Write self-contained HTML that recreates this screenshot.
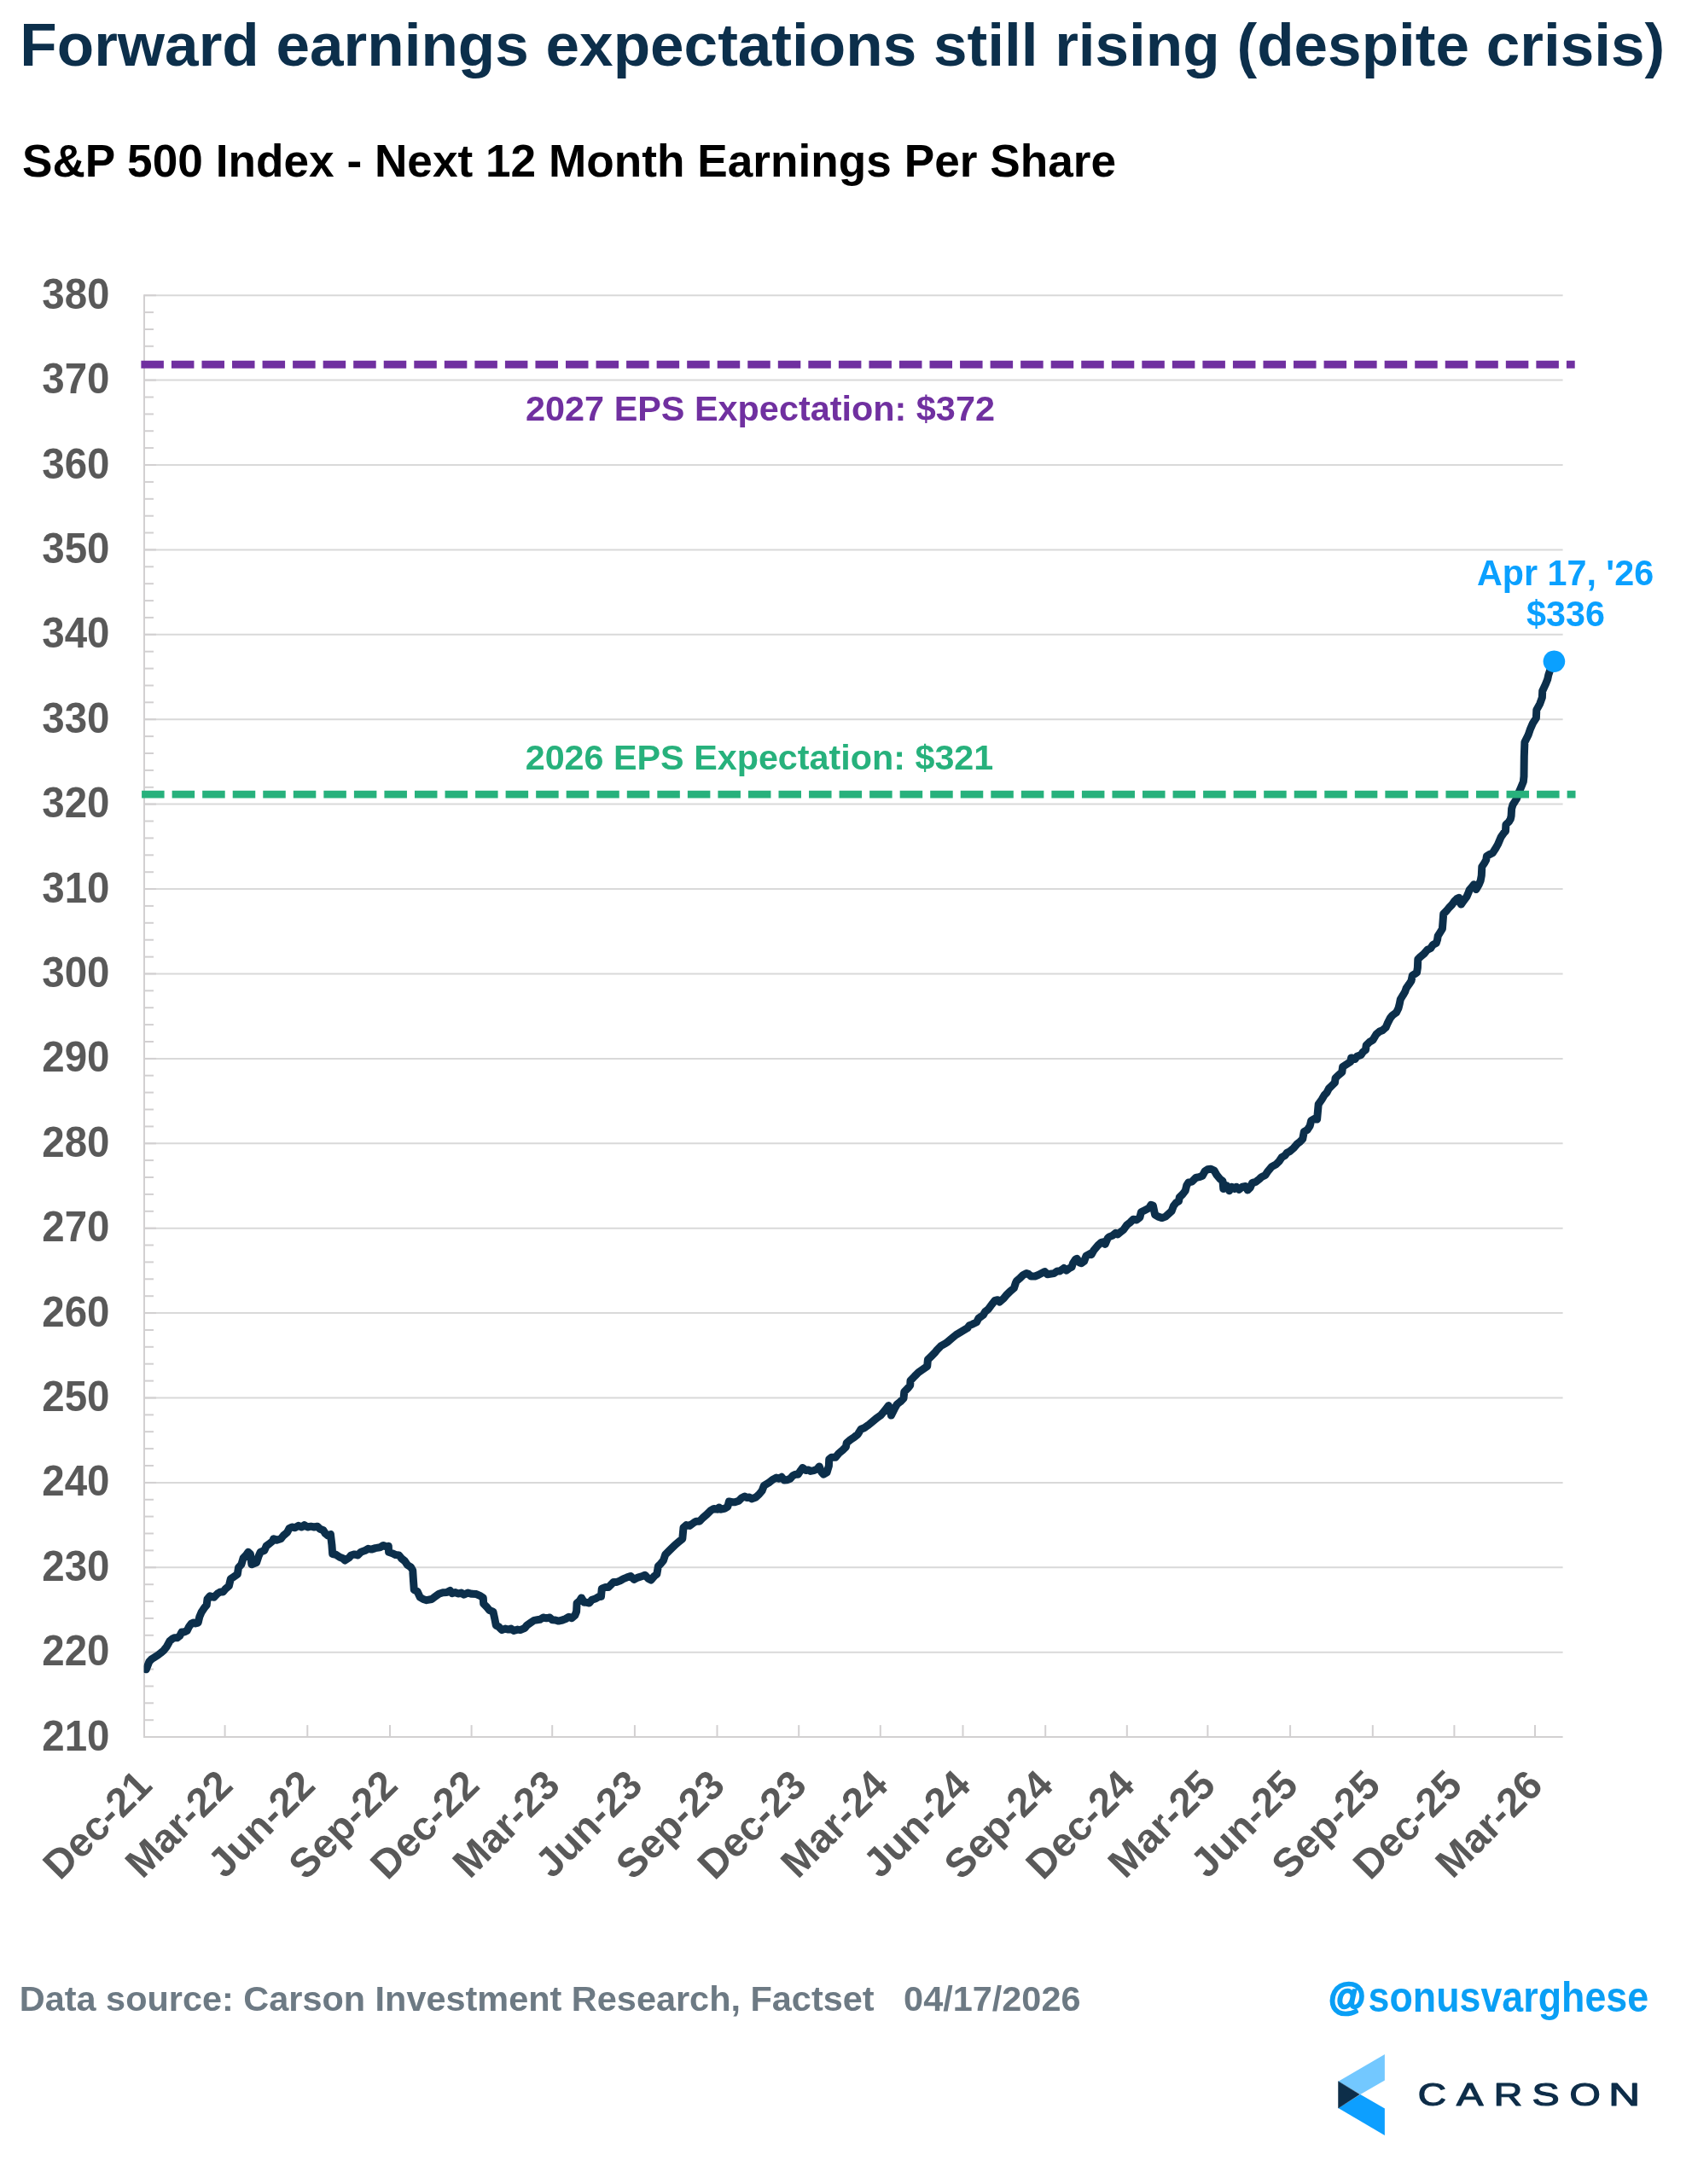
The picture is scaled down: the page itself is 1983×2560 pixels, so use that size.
<!DOCTYPE html>
<html><head><meta charset="utf-8"><title>Forward earnings expectations</title>
<style>
html,body{margin:0;padding:0;background:#fff;}
body{width:1983px;height:2560px;overflow:hidden;}
svg{display:block;will-change:transform;}
text{font-family:"Liberation Sans",sans-serif;font-weight:bold;}
</style></head><body>
<svg width="1983" height="2560" viewBox="0 0 1983 2560">
<rect x="0" y="0" width="1983" height="2560" fill="#ffffff"/>

<text x="23.3" y="77.3" font-size="71.1" fill="#0C2F4B">Forward earnings expectations still rising (despite crisis)</text>
<text transform="translate(25.9,207) scale(0.9855,1)" font-size="54" fill="#000000">S&amp;P 500 Index - Next 12 Month Earnings Per Share</text>
<line x1="169.0" y1="2036.1" x2="1831.6" y2="2036.1" stroke="#D2D0D1" stroke-width="2"/>
<line x1="169.0" y1="1936.7" x2="1831.6" y2="1936.7" stroke="#D9D9D9" stroke-width="2"/>
<line x1="169.0" y1="1837.3" x2="1831.6" y2="1837.3" stroke="#D9D9D9" stroke-width="2"/>
<line x1="169.0" y1="1737.9" x2="1831.6" y2="1737.9" stroke="#D9D9D9" stroke-width="2"/>
<line x1="169.0" y1="1638.5" x2="1831.6" y2="1638.5" stroke="#D9D9D9" stroke-width="2"/>
<line x1="169.0" y1="1539.1" x2="1831.6" y2="1539.1" stroke="#D9D9D9" stroke-width="2"/>
<line x1="169.0" y1="1439.7" x2="1831.6" y2="1439.7" stroke="#D9D9D9" stroke-width="2"/>
<line x1="169.0" y1="1340.3" x2="1831.6" y2="1340.3" stroke="#D9D9D9" stroke-width="2"/>
<line x1="169.0" y1="1240.9" x2="1831.6" y2="1240.9" stroke="#D9D9D9" stroke-width="2"/>
<line x1="169.0" y1="1141.4" x2="1831.6" y2="1141.4" stroke="#D9D9D9" stroke-width="2"/>
<line x1="169.0" y1="1042.0" x2="1831.6" y2="1042.0" stroke="#D9D9D9" stroke-width="2"/>
<line x1="169.0" y1="942.6" x2="1831.6" y2="942.6" stroke="#D9D9D9" stroke-width="2"/>
<line x1="169.0" y1="843.2" x2="1831.6" y2="843.2" stroke="#D9D9D9" stroke-width="2"/>
<line x1="169.0" y1="743.8" x2="1831.6" y2="743.8" stroke="#D9D9D9" stroke-width="2"/>
<line x1="169.0" y1="644.4" x2="1831.6" y2="644.4" stroke="#D9D9D9" stroke-width="2"/>
<line x1="169.0" y1="545.0" x2="1831.6" y2="545.0" stroke="#D9D9D9" stroke-width="2"/>
<line x1="169.0" y1="445.6" x2="1831.6" y2="445.6" stroke="#D9D9D9" stroke-width="2"/>
<line x1="169.0" y1="346.2" x2="1831.6" y2="346.2" stroke="#D9D9D9" stroke-width="2"/>
<line x1="169.0" y1="2016.2" x2="180.0" y2="2016.2" stroke="#D2D0D1" stroke-width="2"/>
<line x1="169.0" y1="1996.3" x2="180.0" y2="1996.3" stroke="#D2D0D1" stroke-width="2"/>
<line x1="169.0" y1="1976.5" x2="180.0" y2="1976.5" stroke="#D2D0D1" stroke-width="2"/>
<line x1="169.0" y1="1956.6" x2="180.0" y2="1956.6" stroke="#D2D0D1" stroke-width="2"/>
<line x1="169.0" y1="1916.8" x2="180.0" y2="1916.8" stroke="#D2D0D1" stroke-width="2"/>
<line x1="169.0" y1="1896.9" x2="180.0" y2="1896.9" stroke="#D2D0D1" stroke-width="2"/>
<line x1="169.0" y1="1877.1" x2="180.0" y2="1877.1" stroke="#D2D0D1" stroke-width="2"/>
<line x1="169.0" y1="1857.2" x2="180.0" y2="1857.2" stroke="#D2D0D1" stroke-width="2"/>
<line x1="169.0" y1="1817.4" x2="180.0" y2="1817.4" stroke="#D2D0D1" stroke-width="2"/>
<line x1="169.0" y1="1797.5" x2="180.0" y2="1797.5" stroke="#D2D0D1" stroke-width="2"/>
<line x1="169.0" y1="1777.6" x2="180.0" y2="1777.6" stroke="#D2D0D1" stroke-width="2"/>
<line x1="169.0" y1="1757.8" x2="180.0" y2="1757.8" stroke="#D2D0D1" stroke-width="2"/>
<line x1="169.0" y1="1718.0" x2="180.0" y2="1718.0" stroke="#D2D0D1" stroke-width="2"/>
<line x1="169.0" y1="1698.1" x2="180.0" y2="1698.1" stroke="#D2D0D1" stroke-width="2"/>
<line x1="169.0" y1="1678.2" x2="180.0" y2="1678.2" stroke="#D2D0D1" stroke-width="2"/>
<line x1="169.0" y1="1658.4" x2="180.0" y2="1658.4" stroke="#D2D0D1" stroke-width="2"/>
<line x1="169.0" y1="1618.6" x2="180.0" y2="1618.6" stroke="#D2D0D1" stroke-width="2"/>
<line x1="169.0" y1="1598.7" x2="180.0" y2="1598.7" stroke="#D2D0D1" stroke-width="2"/>
<line x1="169.0" y1="1578.8" x2="180.0" y2="1578.8" stroke="#D2D0D1" stroke-width="2"/>
<line x1="169.0" y1="1559.0" x2="180.0" y2="1559.0" stroke="#D2D0D1" stroke-width="2"/>
<line x1="169.0" y1="1519.2" x2="180.0" y2="1519.2" stroke="#D2D0D1" stroke-width="2"/>
<line x1="169.0" y1="1499.3" x2="180.0" y2="1499.3" stroke="#D2D0D1" stroke-width="2"/>
<line x1="169.0" y1="1479.4" x2="180.0" y2="1479.4" stroke="#D2D0D1" stroke-width="2"/>
<line x1="169.0" y1="1459.5" x2="180.0" y2="1459.5" stroke="#D2D0D1" stroke-width="2"/>
<line x1="169.0" y1="1419.8" x2="180.0" y2="1419.8" stroke="#D2D0D1" stroke-width="2"/>
<line x1="169.0" y1="1399.9" x2="180.0" y2="1399.9" stroke="#D2D0D1" stroke-width="2"/>
<line x1="169.0" y1="1380.0" x2="180.0" y2="1380.0" stroke="#D2D0D1" stroke-width="2"/>
<line x1="169.0" y1="1360.1" x2="180.0" y2="1360.1" stroke="#D2D0D1" stroke-width="2"/>
<line x1="169.0" y1="1320.4" x2="180.0" y2="1320.4" stroke="#D2D0D1" stroke-width="2"/>
<line x1="169.0" y1="1300.5" x2="180.0" y2="1300.5" stroke="#D2D0D1" stroke-width="2"/>
<line x1="169.0" y1="1280.6" x2="180.0" y2="1280.6" stroke="#D2D0D1" stroke-width="2"/>
<line x1="169.0" y1="1260.7" x2="180.0" y2="1260.7" stroke="#D2D0D1" stroke-width="2"/>
<line x1="169.0" y1="1221.0" x2="180.0" y2="1221.0" stroke="#D2D0D1" stroke-width="2"/>
<line x1="169.0" y1="1201.1" x2="180.0" y2="1201.1" stroke="#D2D0D1" stroke-width="2"/>
<line x1="169.0" y1="1181.2" x2="180.0" y2="1181.2" stroke="#D2D0D1" stroke-width="2"/>
<line x1="169.0" y1="1161.3" x2="180.0" y2="1161.3" stroke="#D2D0D1" stroke-width="2"/>
<line x1="169.0" y1="1121.6" x2="180.0" y2="1121.6" stroke="#D2D0D1" stroke-width="2"/>
<line x1="169.0" y1="1101.7" x2="180.0" y2="1101.7" stroke="#D2D0D1" stroke-width="2"/>
<line x1="169.0" y1="1081.8" x2="180.0" y2="1081.8" stroke="#D2D0D1" stroke-width="2"/>
<line x1="169.0" y1="1061.9" x2="180.0" y2="1061.9" stroke="#D2D0D1" stroke-width="2"/>
<line x1="169.0" y1="1022.2" x2="180.0" y2="1022.2" stroke="#D2D0D1" stroke-width="2"/>
<line x1="169.0" y1="1002.3" x2="180.0" y2="1002.3" stroke="#D2D0D1" stroke-width="2"/>
<line x1="169.0" y1="982.4" x2="180.0" y2="982.4" stroke="#D2D0D1" stroke-width="2"/>
<line x1="169.0" y1="962.5" x2="180.0" y2="962.5" stroke="#D2D0D1" stroke-width="2"/>
<line x1="169.0" y1="922.8" x2="180.0" y2="922.8" stroke="#D2D0D1" stroke-width="2"/>
<line x1="169.0" y1="902.9" x2="180.0" y2="902.9" stroke="#D2D0D1" stroke-width="2"/>
<line x1="169.0" y1="883.0" x2="180.0" y2="883.0" stroke="#D2D0D1" stroke-width="2"/>
<line x1="169.0" y1="863.1" x2="180.0" y2="863.1" stroke="#D2D0D1" stroke-width="2"/>
<line x1="169.0" y1="823.3" x2="180.0" y2="823.3" stroke="#D2D0D1" stroke-width="2"/>
<line x1="169.0" y1="803.5" x2="180.0" y2="803.5" stroke="#D2D0D1" stroke-width="2"/>
<line x1="169.0" y1="783.6" x2="180.0" y2="783.6" stroke="#D2D0D1" stroke-width="2"/>
<line x1="169.0" y1="763.7" x2="180.0" y2="763.7" stroke="#D2D0D1" stroke-width="2"/>
<line x1="169.0" y1="723.9" x2="180.0" y2="723.9" stroke="#D2D0D1" stroke-width="2"/>
<line x1="169.0" y1="704.1" x2="180.0" y2="704.1" stroke="#D2D0D1" stroke-width="2"/>
<line x1="169.0" y1="684.2" x2="180.0" y2="684.2" stroke="#D2D0D1" stroke-width="2"/>
<line x1="169.0" y1="664.3" x2="180.0" y2="664.3" stroke="#D2D0D1" stroke-width="2"/>
<line x1="169.0" y1="624.5" x2="180.0" y2="624.5" stroke="#D2D0D1" stroke-width="2"/>
<line x1="169.0" y1="604.7" x2="180.0" y2="604.7" stroke="#D2D0D1" stroke-width="2"/>
<line x1="169.0" y1="584.8" x2="180.0" y2="584.8" stroke="#D2D0D1" stroke-width="2"/>
<line x1="169.0" y1="564.9" x2="180.0" y2="564.9" stroke="#D2D0D1" stroke-width="2"/>
<line x1="169.0" y1="525.1" x2="180.0" y2="525.1" stroke="#D2D0D1" stroke-width="2"/>
<line x1="169.0" y1="505.2" x2="180.0" y2="505.2" stroke="#D2D0D1" stroke-width="2"/>
<line x1="169.0" y1="485.4" x2="180.0" y2="485.4" stroke="#D2D0D1" stroke-width="2"/>
<line x1="169.0" y1="465.5" x2="180.0" y2="465.5" stroke="#D2D0D1" stroke-width="2"/>
<line x1="169.0" y1="425.7" x2="180.0" y2="425.7" stroke="#D2D0D1" stroke-width="2"/>
<line x1="169.0" y1="405.8" x2="180.0" y2="405.8" stroke="#D2D0D1" stroke-width="2"/>
<line x1="169.0" y1="386.0" x2="180.0" y2="386.0" stroke="#D2D0D1" stroke-width="2"/>
<line x1="169.0" y1="366.1" x2="180.0" y2="366.1" stroke="#D2D0D1" stroke-width="2"/>
<line x1="169.0" y1="1936.7" x2="183.0" y2="1936.7" stroke="#D2D0D1" stroke-width="2"/>
<line x1="169.0" y1="1837.3" x2="183.0" y2="1837.3" stroke="#D2D0D1" stroke-width="2"/>
<line x1="169.0" y1="1737.9" x2="183.0" y2="1737.9" stroke="#D2D0D1" stroke-width="2"/>
<line x1="169.0" y1="1638.5" x2="183.0" y2="1638.5" stroke="#D2D0D1" stroke-width="2"/>
<line x1="169.0" y1="1539.1" x2="183.0" y2="1539.1" stroke="#D2D0D1" stroke-width="2"/>
<line x1="169.0" y1="1439.7" x2="183.0" y2="1439.7" stroke="#D2D0D1" stroke-width="2"/>
<line x1="169.0" y1="1340.3" x2="183.0" y2="1340.3" stroke="#D2D0D1" stroke-width="2"/>
<line x1="169.0" y1="1240.9" x2="183.0" y2="1240.9" stroke="#D2D0D1" stroke-width="2"/>
<line x1="169.0" y1="1141.4" x2="183.0" y2="1141.4" stroke="#D2D0D1" stroke-width="2"/>
<line x1="169.0" y1="1042.0" x2="183.0" y2="1042.0" stroke="#D2D0D1" stroke-width="2"/>
<line x1="169.0" y1="942.6" x2="183.0" y2="942.6" stroke="#D2D0D1" stroke-width="2"/>
<line x1="169.0" y1="843.2" x2="183.0" y2="843.2" stroke="#D2D0D1" stroke-width="2"/>
<line x1="169.0" y1="743.8" x2="183.0" y2="743.8" stroke="#D2D0D1" stroke-width="2"/>
<line x1="169.0" y1="644.4" x2="183.0" y2="644.4" stroke="#D2D0D1" stroke-width="2"/>
<line x1="169.0" y1="545.0" x2="183.0" y2="545.0" stroke="#D2D0D1" stroke-width="2"/>
<line x1="169.0" y1="445.6" x2="183.0" y2="445.6" stroke="#D2D0D1" stroke-width="2"/>
<line x1="169.0" y1="346.2" x2="183.0" y2="346.2" stroke="#D2D0D1" stroke-width="2"/>
<line x1="169.0" y1="345.2" x2="169.0" y2="2037.1" stroke="#D2D0D1" stroke-width="2"/>
<text transform="translate(128.5,2051.6) scale(1,1.045)" font-size="47.5" fill="#595959" text-anchor="end">210</text>
<text transform="translate(128.5,1952.2) scale(1,1.045)" font-size="47.5" fill="#595959" text-anchor="end">220</text>
<text transform="translate(128.5,1852.8) scale(1,1.045)" font-size="47.5" fill="#595959" text-anchor="end">230</text>
<text transform="translate(128.5,1753.4) scale(1,1.045)" font-size="47.5" fill="#595959" text-anchor="end">240</text>
<text transform="translate(128.5,1654.0) scale(1,1.045)" font-size="47.5" fill="#595959" text-anchor="end">250</text>
<text transform="translate(128.5,1554.6) scale(1,1.045)" font-size="47.5" fill="#595959" text-anchor="end">260</text>
<text transform="translate(128.5,1455.2) scale(1,1.045)" font-size="47.5" fill="#595959" text-anchor="end">270</text>
<text transform="translate(128.5,1355.8) scale(1,1.045)" font-size="47.5" fill="#595959" text-anchor="end">280</text>
<text transform="translate(128.5,1256.4) scale(1,1.045)" font-size="47.5" fill="#595959" text-anchor="end">290</text>
<text transform="translate(128.5,1156.9) scale(1,1.045)" font-size="47.5" fill="#595959" text-anchor="end">300</text>
<text transform="translate(128.5,1057.5) scale(1,1.045)" font-size="47.5" fill="#595959" text-anchor="end">310</text>
<text transform="translate(128.5,958.1) scale(1,1.045)" font-size="47.5" fill="#595959" text-anchor="end">320</text>
<text transform="translate(128.5,858.7) scale(1,1.045)" font-size="47.5" fill="#595959" text-anchor="end">330</text>
<text transform="translate(128.5,759.3) scale(1,1.045)" font-size="47.5" fill="#595959" text-anchor="end">340</text>
<text transform="translate(128.5,659.9) scale(1,1.045)" font-size="47.5" fill="#595959" text-anchor="end">350</text>
<text transform="translate(128.5,560.5) scale(1,1.045)" font-size="47.5" fill="#595959" text-anchor="end">360</text>
<text transform="translate(128.5,461.1) scale(1,1.045)" font-size="47.5" fill="#595959" text-anchor="end">370</text>
<text transform="translate(128.5,361.7) scale(1,1.045)" font-size="47.5" fill="#595959" text-anchor="end">380</text>
<text transform="translate(180.5,2095.1) rotate(-45)" font-size="47.5" fill="#595959" text-anchor="end">Dec-21</text>
<line x1="263.6" y1="2022.1" x2="263.6" y2="2036.1" stroke="#D2D0D1" stroke-width="2"/>
<text transform="translate(275.1,2095.1) rotate(-45)" font-size="47.5" fill="#595959" text-anchor="end">Mar-22</text>
<line x1="360.3" y1="2022.1" x2="360.3" y2="2036.1" stroke="#D2D0D1" stroke-width="2"/>
<text transform="translate(371.8,2095.1) rotate(-45)" font-size="47.5" fill="#595959" text-anchor="end">Jun-22</text>
<line x1="457.0" y1="2022.1" x2="457.0" y2="2036.1" stroke="#D2D0D1" stroke-width="2"/>
<text transform="translate(468.5,2095.1) rotate(-45)" font-size="47.5" fill="#595959" text-anchor="end">Sep-22</text>
<line x1="552.6" y1="2022.1" x2="552.6" y2="2036.1" stroke="#D2D0D1" stroke-width="2"/>
<text transform="translate(564.1,2095.1) rotate(-45)" font-size="47.5" fill="#595959" text-anchor="end">Dec-22</text>
<line x1="647.2" y1="2022.1" x2="647.2" y2="2036.1" stroke="#D2D0D1" stroke-width="2"/>
<text transform="translate(658.7,2095.1) rotate(-45)" font-size="47.5" fill="#595959" text-anchor="end">Mar-23</text>
<line x1="743.9" y1="2022.1" x2="743.9" y2="2036.1" stroke="#D2D0D1" stroke-width="2"/>
<text transform="translate(755.4,2095.1) rotate(-45)" font-size="47.5" fill="#595959" text-anchor="end">Jun-23</text>
<line x1="840.5" y1="2022.1" x2="840.5" y2="2036.1" stroke="#D2D0D1" stroke-width="2"/>
<text transform="translate(852.0,2095.1) rotate(-45)" font-size="47.5" fill="#595959" text-anchor="end">Sep-23</text>
<line x1="936.2" y1="2022.1" x2="936.2" y2="2036.1" stroke="#D2D0D1" stroke-width="2"/>
<text transform="translate(947.7,2095.1) rotate(-45)" font-size="47.5" fill="#595959" text-anchor="end">Dec-23</text>
<line x1="1031.8" y1="2022.1" x2="1031.8" y2="2036.1" stroke="#D2D0D1" stroke-width="2"/>
<text transform="translate(1043.3,2095.1) rotate(-45)" font-size="47.5" fill="#595959" text-anchor="end">Mar-24</text>
<line x1="1128.5" y1="2022.1" x2="1128.5" y2="2036.1" stroke="#D2D0D1" stroke-width="2"/>
<text transform="translate(1140.0,2095.1) rotate(-45)" font-size="47.5" fill="#595959" text-anchor="end">Jun-24</text>
<line x1="1225.2" y1="2022.1" x2="1225.2" y2="2036.1" stroke="#D2D0D1" stroke-width="2"/>
<text transform="translate(1236.7,2095.1) rotate(-45)" font-size="47.5" fill="#595959" text-anchor="end">Sep-24</text>
<line x1="1320.8" y1="2022.1" x2="1320.8" y2="2036.1" stroke="#D2D0D1" stroke-width="2"/>
<text transform="translate(1332.3,2095.1) rotate(-45)" font-size="47.5" fill="#595959" text-anchor="end">Dec-24</text>
<line x1="1415.4" y1="2022.1" x2="1415.4" y2="2036.1" stroke="#D2D0D1" stroke-width="2"/>
<text transform="translate(1426.9,2095.1) rotate(-45)" font-size="47.5" fill="#595959" text-anchor="end">Mar-25</text>
<line x1="1512.1" y1="2022.1" x2="1512.1" y2="2036.1" stroke="#D2D0D1" stroke-width="2"/>
<text transform="translate(1523.6,2095.1) rotate(-45)" font-size="47.5" fill="#595959" text-anchor="end">Jun-25</text>
<line x1="1608.8" y1="2022.1" x2="1608.8" y2="2036.1" stroke="#D2D0D1" stroke-width="2"/>
<text transform="translate(1620.3,2095.1) rotate(-45)" font-size="47.5" fill="#595959" text-anchor="end">Sep-25</text>
<line x1="1704.4" y1="2022.1" x2="1704.4" y2="2036.1" stroke="#D2D0D1" stroke-width="2"/>
<text transform="translate(1715.9,2095.1) rotate(-45)" font-size="47.5" fill="#595959" text-anchor="end">Dec-25</text>
<line x1="1799.0" y1="2022.1" x2="1799.0" y2="2036.1" stroke="#D2D0D1" stroke-width="2"/>
<text transform="translate(1810.5,2095.1) rotate(-45)" font-size="47.5" fill="#595959" text-anchor="end">Mar-26</text>
<text x="891" y="493.1" font-size="41.4" fill="#7030A0" text-anchor="middle">2027 EPS Expectation: $372</text>
<text x="890" y="902" font-size="41.3" fill="#27B17C" text-anchor="middle">2026 EPS Expectation: $321</text>
<clipPath id="pc"><rect x="168.6" y="300" width="1700" height="1800"/></clipPath>
<path clip-path="url(#pc)" d="M171.3,1956.8 L174.9,1947.6 L177.7,1944.8 L181.3,1942.5 L184.8,1940.3 L188.4,1937.5 L191.9,1934.6 L195.5,1929.9 L199.0,1923.5 L202.6,1920.6 L204.6,1919.8 L207.6,1919.8 L210.7,1917.5 L213.0,1912.9 L216.1,1912.9 L219.2,1911.4 L221.5,1906.7 L224.5,1902.9 L226.8,1902.1 L229.1,1902.9 L232.2,1902.1 L233.8,1895.2 L236.1,1889.8 L239.1,1885.2 L242.2,1881.4 L243.0,1874.5 L246.0,1870.9 L250.7,1872.2 L255.3,1867.6 L258.3,1866.0 L261.4,1866.0 L264.5,1862.2 L268.3,1859.1 L270.3,1850.7 L273.7,1848.4 L278.3,1845.3 L279.5,1837.6 L282.9,1833.8 L285.2,1826.1 L288.3,1823.0 L290.9,1819.2 L293.4,1821.5 L294.9,1833.8 L300.6,1831.5 L302.9,1824.5 L305.2,1819.2 L309.8,1817.6 L312.1,1812.2 L315.2,1809.9 L319.8,1806.1 L320.6,1803.8 L324.4,1805.3 L329.0,1803.8 L332.1,1800.0 L336.7,1796.1 L339.0,1791.5 L342.1,1790.0 L345.9,1790.7 L349.8,1788.4 L353.6,1790.0 L356.7,1787.7 L360.5,1790.0 L364.4,1789.2 L368.2,1790.0 L372.0,1789.2 L375.1,1792.3 L379.0,1793.8 L381.3,1797.6 L384.3,1800.0 L387.4,1798.4 L388.9,1810.7 L389.7,1821.5 L393.6,1822.2 L398.2,1825.3 L402.0,1826.8 L404.3,1829.1 L408.9,1826.1 L411.5,1823.0 L415.4,1821.9 L419.2,1823.0 L423.0,1819.2 L427.7,1817.6 L431.5,1815.3 L435.3,1816.1 L440.0,1814.6 L445.3,1813.8 L449.2,1811.5 L453.0,1813.0 L455.3,1812.3 L455.6,1819.2 L459.9,1820.7 L463.8,1822.6 L467.6,1823.0 L470.7,1826.9 L474.5,1829.9 L477.6,1834.5 L481.4,1836.8 L483.7,1840.7 L484.5,1853.0 L485.3,1863.7 L489.1,1865.3 L492.2,1872.2 L496.0,1874.5 L499.9,1875.7 L506.0,1874.5 L509.9,1871.4 L514.5,1868.3 L519.1,1866.8 L523.7,1866.5 L527.5,1864.5 L529.8,1867.6 L533.7,1866.5 L536.8,1868.0 L540.6,1867.1 L543.7,1869.1 L548.3,1867.1 L552.9,1868.3 L558.3,1868.6 L562.9,1870.6 L566.3,1873.0 L566.7,1879.9 L570.6,1883.7 L573.6,1887.5 L577.9,1889.1 L579.8,1897.5 L581.3,1905.2 L584.4,1906.8 L588.2,1910.6 L592.1,1909.1 L595.9,1910.1 L599.0,1909.1 L602.1,1911.4 L606.7,1910.1 L609.7,1910.6 L615.1,1908.3 L617.4,1905.2 L622.0,1902.1 L625.9,1899.4 L629.7,1898.8 L632.8,1898.3 L636.6,1896.0 L640.5,1896.8 L644.3,1896.0 L647.4,1898.8 L650.8,1899.0 L654.6,1900.1 L659.2,1899.0 L663.0,1897.5 L666.9,1895.2 L670.0,1896.7 L673.8,1893.6 L675.6,1889.0 L676.1,1879.0 L679.2,1876.7 L681.5,1872.9 L684.6,1878.3 L687.6,1878.3 L690.7,1879.0 L693.8,1875.2 L698.4,1873.7 L702.2,1871.4 L704.5,1871.4 L705.3,1862.1 L709.1,1860.6 L713.0,1860.6 L716.8,1856.8 L719.1,1854.4 L723.0,1854.4 L726.8,1852.9 L730.7,1850.6 L734.5,1849.1 L739.1,1847.5 L743.0,1851.4 L747.6,1849.1 L752.9,1847.5 L756.0,1846.3 L759.9,1850.6 L762.9,1852.1 L766.8,1847.5 L769.8,1845.2 L771.4,1836.0 L774.4,1832.9 L777.5,1829.1 L779.8,1822.2 L783.7,1818.3 L787.5,1814.5 L791.4,1810.7 L795.2,1807.6 L799.8,1803.7 L801.0,1790.7 L804.4,1787.6 L808.3,1788.4 L813.6,1784.5 L815.9,1783.3 L819.8,1783.3 L823.6,1779.2 L828.2,1775.3 L832.8,1770.7 L836.7,1768.4 L840.5,1769.2 L842.8,1766.9 L845.1,1769.2 L849.0,1768.4 L852.8,1766.1 L854.4,1760.0 L858.2,1760.7 L861.3,1760.7 L865.9,1759.2 L868.9,1756.1 L872.8,1754.1 L875.1,1755.6 L878.2,1755.0 L881.2,1756.9 L885.9,1755.0 L889.7,1751.5 L893.1,1747.4 L895.4,1741.3 L900.7,1738.2 L905.4,1734.4 L910.0,1732.1 L913.0,1733.3 L916.1,1731.3 L919.2,1735.1 L922.3,1734.8 L926.1,1733.3 L929.2,1729.8 L932.2,1728.2 L935.3,1728.2 L938.4,1723.6 L940.7,1720.5 L944.5,1723.6 L947.6,1722.9 L949.9,1724.4 L953.8,1723.6 L957.6,1722.1 L960.2,1719.0 L963.0,1725.9 L965.3,1728.2 L969.1,1725.9 L971.4,1718.2 L971.7,1710.6 L974.5,1708.3 L979.1,1708.3 L983.0,1703.6 L987.6,1699.8 L991.4,1696.0 L992.2,1691.4 L996.8,1687.5 L1001.4,1684.4 L1005.2,1681.4 L1009.1,1675.2 L1012.9,1673.7 L1017.5,1670.6 L1022.1,1666.8 L1027.5,1662.2 L1032.1,1659.1 L1036.7,1653.7 L1041.3,1647.6 L1043.2,1650.6 L1044.4,1659.1 L1048.3,1651.4 L1051.3,1646.0 L1055.2,1643.0 L1059.0,1639.1 L1059.8,1631.4 L1064.4,1626.8 L1066.7,1623.7 L1067.0,1618.4 L1072.1,1613.0 L1076.7,1608.4 L1081.3,1605.3 L1086.7,1601.5 L1087.4,1593.8 L1092.0,1589.2 L1095.9,1585.3 L1098.2,1582.3 L1102.8,1577.6 L1108.2,1574.6 L1110.5,1573.0 L1115.9,1568.4 L1120.5,1564.6 L1125.1,1561.8 L1133.8,1556.7 L1136.1,1553.6 L1140.0,1552.1 L1144.6,1549.8 L1146.9,1545.2 L1152.3,1541.4 L1154.6,1537.5 L1158.4,1534.4 L1162.3,1529.1 L1166.1,1524.4 L1169.2,1523.7 L1171.5,1526.0 L1176.1,1522.1 L1179.2,1518.3 L1183.8,1513.7 L1188.4,1509.9 L1190.4,1503.7 L1191.5,1501.4 L1195.3,1498.3 L1199.1,1494.5 L1203.0,1492.6 L1205.3,1493.3 L1208.4,1496.0 L1213.0,1496.0 L1216.8,1494.5 L1220.6,1492.6 L1224.5,1490.6 L1227.6,1493.7 L1230.6,1493.3 L1235.2,1492.6 L1239.1,1489.9 L1242.2,1489.9 L1246.8,1486.5 L1249.8,1489.1 L1252.9,1486.8 L1256.0,1485.3 L1257.5,1480.7 L1260.6,1476.0 L1262.1,1475.3 L1265.2,1479.9 L1267.5,1480.7 L1270.6,1478.4 L1272.9,1472.2 L1278.3,1469.1 L1279.0,1470.7 L1282.1,1465.3 L1286.7,1459.9 L1290.6,1456.4 L1292.9,1455.8 L1295.2,1458.4 L1298.2,1451.5 L1299.8,1449.9 L1303.6,1448.4 L1307.5,1445.3 L1309.8,1446.9 L1312.8,1444.5 L1316.7,1441.5 L1320.5,1436.1 L1324.4,1433.0 L1328.2,1429.2 L1332.0,1430.0 L1335.9,1426.9 L1337.4,1420.7 L1342.0,1418.4 L1346.6,1416.1 L1348.9,1412.3 L1351.3,1413.0 L1353.6,1423.8 L1357.4,1426.1 L1362.0,1427.6 L1365.9,1426.1 L1373.1,1419.7 L1375.4,1413.5 L1378.4,1409.7 L1381.5,1408.1 L1382.3,1403.5 L1386.1,1399.7 L1389.2,1395.8 L1390.7,1389.7 L1393.0,1385.9 L1396.9,1385.1 L1401.5,1380.5 L1405.3,1379.7 L1409.2,1378.2 L1412.2,1372.8 L1415.3,1370.8 L1419.2,1370.2 L1423.0,1372.0 L1426.1,1377.4 L1429.9,1382.0 L1433.0,1384.3 L1433.8,1393.5 L1437.6,1389.7 L1440.7,1395.8 L1443.7,1391.2 L1446.8,1393.5 L1449.1,1391.2 L1452.2,1394.3 L1456.0,1391.2 L1459.9,1390.5 L1462.2,1395.1 L1465.3,1392.0 L1467.6,1386.6 L1472.2,1385.1 L1476.0,1382.0 L1478.3,1379.7 L1482.9,1377.4 L1486.0,1372.8 L1490.6,1367.4 L1495.2,1365.1 L1499.1,1361.3 L1502.1,1356.7 L1506.0,1354.4 L1508.3,1351.3 L1511.4,1349.7 L1516.0,1345.9 L1519.8,1341.3 L1523.6,1338.2 L1526.7,1335.1 L1528.3,1326.7 L1532.1,1324.4 L1535.2,1319.8 L1536.7,1313.6 L1540.5,1311.3 L1543.6,1312.1 L1545.2,1294.4 L1549.0,1289.0 L1552.1,1283.7 L1555.1,1280.6 L1557.4,1276.0 L1561.3,1272.1 L1564.4,1269.1 L1565.1,1263.7 L1569.0,1259.9 L1572.8,1256.8 L1573.6,1250.6 L1578.2,1247.6 L1582.8,1244.5 L1583.6,1239.9 L1588.2,1241.4 L1590.5,1238.3 L1595.1,1236.5 L1597.4,1233.0 L1600.5,1230.7 L1601.2,1225.3 L1605.1,1221.4 L1608.9,1219.1 L1613.0,1212.2 L1616.9,1209.0 L1620.2,1207.7 L1624.1,1204.4 L1626.0,1199.9 L1629.3,1193.4 L1631.9,1190.1 L1636.4,1186.9 L1639.0,1181.7 L1640.3,1176.5 L1641.3,1171.3 L1644.2,1166.7 L1646.8,1162.2 L1648.1,1158.3 L1651.4,1153.7 L1654.0,1149.8 L1655.3,1143.3 L1658.5,1141.4 L1660.5,1140.1 L1661.4,1134.2 L1661.8,1124.5 L1665.0,1121.2 L1668.9,1118.0 L1672.8,1113.4 L1676.7,1111.5 L1679.3,1107.6 L1683.2,1105.6 L1684.5,1101.7 L1685.2,1097.2 L1688.4,1092.0 L1690.4,1088.7 L1691.0,1080.9 L1691.7,1071.2 L1695.6,1067.3 L1698.2,1064.0 L1701.4,1060.8 L1704.7,1056.2 L1707.3,1053.6 L1709.9,1052.3 L1711.2,1058.2 L1712.5,1060.1 L1715.1,1056.2 L1719.0,1051.0 L1720.9,1046.5 L1722.2,1043.2 L1724.8,1040.0 L1727.4,1036.7 L1728.7,1038.0 L1730.0,1042.6 L1733.3,1036.7 L1735.2,1032.2 L1736.3,1026.3 L1736.8,1015.9 L1739.8,1011.4 L1741.7,1008.1 L1742.4,1003.6 L1745.6,1001.6 L1749.5,999.7 L1752.8,994.5 L1755.4,989.9 L1757.3,985.4 L1759.3,980.8 L1762.5,976.3 L1764.5,974.3 L1764.9,966.5 L1768.4,963.3 L1770.3,960.0 L1771.1,956.4 L1771.6,948.0 L1773.0,943.2 L1777.4,936.4 L1780.0,929.0 L1782.7,922.7 L1785.3,916.4 L1786.0,910.1 L1786.3,886.9 L1786.9,870.1 L1791.1,861.6 L1793.2,855.3 L1796.4,847.9 L1800.4,841.6 L1800.8,832.1 L1804.8,824.8 L1807.4,817.4 L1807.7,810.0 L1811.1,802.7 L1813.7,796.3 L1814.8,791.1 L1816.9,784.8 L1821.4,775.3" fill="none" stroke="#0C2F4B" stroke-width="9.0" stroke-linejoin="round" stroke-linecap="round"/>
<line x1="165.4" y1="427.3" x2="1845.7" y2="427.3" stroke="#7030A0" stroke-width="8.9" stroke-dasharray="26.5 9.043"/>
<line x1="166.1" y1="931.1" x2="1846.5" y2="931.1" stroke="#27B17C" stroke-width="8.6" stroke-dasharray="26.5 9.043"/>
<circle cx="1821.4" cy="775.3" r="12.8" fill="#0AA0FF"/>
<text transform="translate(1834.5,686.1) scale(1,1.035)" font-size="41.3" fill="#0AA0FF" text-anchor="middle">Apr 17, '26</text>
<text transform="translate(1835,734.3) scale(1,1.035)" font-size="41.3" fill="#0AA0FF" text-anchor="middle">$336</text>
<text x="22.8" y="2357.3" font-size="41.45" fill="#6D7A84" xml:space="preserve">Data source: Carson Investment Research, Factset   04/17/2026</text>
<text x="1557.2" y="2356" font-size="44" fill="#0A9FF5" stroke="#0A9FF5" stroke-width="2.4" stroke-linejoin="round">@</text>
<text x="1603.6" y="2357.9" font-size="50" fill="#0A9FF5" textLength="328.5" lengthAdjust="spacingAndGlyphs">sonusvarghese</text>
<filter id="lb" x="-5%" y="-5%" width="110%" height="110%"><feGaussianBlur stdDeviation="0.55"/></filter><g filter="url(#lb)">
<polygon points="1568.5,2439.7 1622.9,2407.9 1622.9,2438.5 1594.3,2454.9" fill="#73C8FF"/>
<polygon points="1568.5,2471 1594.3,2454.9 1622.9,2471.5 1622.9,2503.1" fill="#0A9FFF"/>
<polygon points="1568.5,2439.7 1593.4,2454.9 1568.5,2471" fill="#0C2D48" stroke="#0C2D48" stroke-width="0.5"/>
<text transform="translate(1661.8,2468.4) scale(1.2,0.96)" font-size="38.4" style="font-weight:normal" fill="#0C2D48" stroke="#0C2D48" stroke-width="1.3" stroke-linejoin="round">C</text>
<text transform="translate(1707.0,2468.4) scale(1.225,0.96)" font-size="38.4" style="font-weight:normal" fill="#0C2D48" stroke="#0C2D48" stroke-width="1.3" stroke-linejoin="round">A</text>
<text transform="translate(1750.8,2468.4) scale(1.21,0.96)" font-size="38.4" style="font-weight:normal" fill="#0C2D48" stroke="#0C2D48" stroke-width="1.3" stroke-linejoin="round">R</text>
<text transform="translate(1795.6,2468.4) scale(1.255,0.96)" font-size="38.4" style="font-weight:normal" fill="#0C2D48" stroke="#0C2D48" stroke-width="1.3" stroke-linejoin="round">S</text>
<text transform="translate(1839.6,2468.4) scale(1.215,0.96)" font-size="38.4" style="font-weight:normal" fill="#0C2D48" stroke="#0C2D48" stroke-width="1.3" stroke-linejoin="round">O</text>
<text transform="translate(1885.3,2468.4) scale(1.33,0.96)" font-size="38.4" style="font-weight:normal" fill="#0C2D48" stroke="#0C2D48" stroke-width="1.3" stroke-linejoin="round">N</text>
</g>
</svg></body></html>
